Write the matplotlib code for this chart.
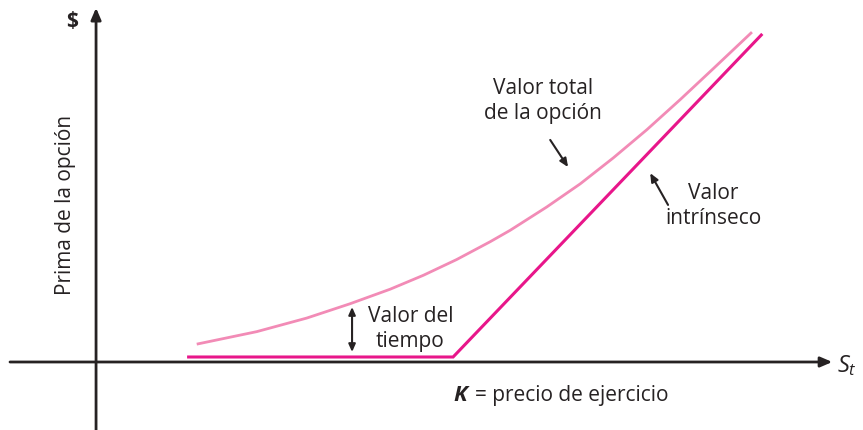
import matplotlib
matplotlib.use("Agg")
import matplotlib.pyplot as plt

# ── data (S in units where K = 100, premium in same units) ──────────────────
K = 100.0

intrinsic_s = [25.5, 100.0, 186.6]
intrinsic_v = [1.4, 1.4, 91.9]

total_s = [28.2, 45.0, 59.0, 71.1, 82.4, 91.7, 101.0, 110.4, 116.0, 126.2,
           135.6, 144.9, 154.3, 163.6, 172.9, 183.7]
total_v = [5.0, 8.5, 12.3, 16.3, 20.4, 24.3, 28.7, 33.7, 36.9, 43.4,
           49.9, 57.2, 65.1, 73.5, 82.2, 92.4]

INK = "#262223"
PINK_DARK = "#e8168a"
PINK_LIGHT = "#f28bb6"
FONT = "Open Sans"

plt.rcParams["font.family"] = [FONT, "DejaVu Sans"]
plt.rcParams["mathtext.fontset"] = "custom"
plt.rcParams["mathtext.it"] = f"{FONT}:italic"
plt.rcParams["mathtext.rm"] = FONT

fig = plt.figure(figsize=(8.63, 4.30), dpi=100)
ax = fig.add_axes([0, 0, 1, 1])
ax.set_xlim(-26.9, 214.8)
ax.set_ylim(-19.05, 101.4)
ax.axis("off")

# ── axes with arrow heads ───────────────────────────────────────────────────
arrow_kw = dict(arrowstyle="-|>,head_length=0.7,head_width=0.3",
                color=INK, lw=2.0, shrinkA=0, shrinkB=0)
ax.annotate("", xy=(206.2, 0), xytext=(-24.1, 0), arrowprops=arrow_kw)
ax.annotate("", xy=(0, 99.2), xytext=(0, -19.05), arrowprops=arrow_kw)

# ── curves ──────────────────────────────────────────────────────────────────
ax.plot(total_s, total_v, color=PINK_LIGHT, lw=2.0, solid_capstyle="butt",
        solid_joinstyle="round")
ax.plot(intrinsic_s, intrinsic_v, color=PINK_DARK, lw=2.2,
        solid_capstyle="butt", solid_joinstyle="miter")

# ── labels ──────────────────────────────────────────────────────────────────
fs = 15
ls = 1.25
ax.text(125.2, 73.0, "Valor total\nde la opción", ha="center", va="center",
        fontsize=fs, color=INK, linespacing=ls)
ax.text(172.8, 43.8, "Valor\nintrínseco", ha="center", va="center",
        fontsize=fs, color=INK, linespacing=ls)
ax.text(88.0, 9.3, "Valor del\ntiempo", ha="center", va="center",
        fontsize=fs, color=INK, linespacing=ls)
ax.text(K, -9.5, "K", ha="left", va="center", fontsize=fs + 1, color=INK,
        fontweight="bold", fontstyle="italic")
ax.text(106.2, -9.5, "= precio de ejercicio", ha="left", va="center",
        fontsize=fs, color=INK)
ax.text(207.6, -1.1, r"$S_t$", ha="left", va="center", fontsize=fs + 2,
        color=INK)
ax.text(-6.7, 95.4, "$", ha="center", va="center", fontsize=fs,
        color=INK, fontweight="bold")
ax.text(-8.6, 44.0, "Prima de la opción", ha="center", va="center",
        rotation=90, fontsize=fs, color=INK)

# ── pointer arrows ──────────────────────────────────────────────────────────
ptr = dict(arrowstyle="-|>,head_length=0.5,head_width=0.22", color=INK,
           lw=1.5, shrinkA=0, shrinkB=0)
ax.annotate("", xy=(132.2, 54.6), xytext=(127.2, 62.2), arrowprops=ptr)
ax.annotate("", xy=(155.2, 52.9), xytext=(160.2, 44.0), arrowprops=ptr)
ax.annotate("", xy=(71.7, 2.8), xytext=(71.7, 15.4),
            arrowprops=dict(arrowstyle="<|-|>,head_length=0.45,head_width=0.2",
                            color=INK, lw=1.5, shrinkA=0, shrinkB=0))

fig.savefig("out.png", dpi=100)
